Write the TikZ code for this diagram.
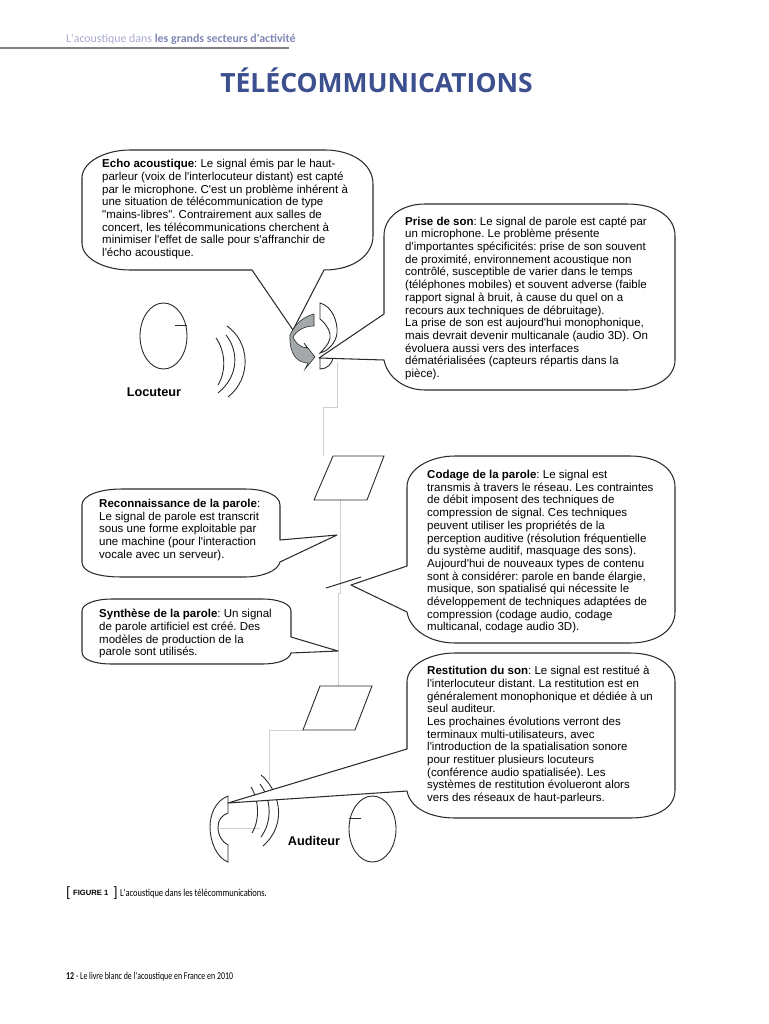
\documentclass[tikz,border=0pt]{standalone}
\usepackage{fontspec}
\newfontfamily\bubblefont{Liberation Sans}
\newfontfamily\pagefont{Carlito}
\newfontfamily\narrowfont[FakeStretch=0.76]{Carlito}
\newfontfamily\legendfont[FakeStretch=0.8]{Carlito}
\newfontfamily\titlefont{Open Sans}
\usepackage{tikz}
\usetikzlibrary{shapes.geometric}
\definecolor{titleblue}{HTML}{3C4F8E}
\definecolor{headlight}{HTML}{A6ABCF}
\definecolor{headdark}{HTML}{8187B5}
\definecolor{wiregray}{HTML}{CFCFCF}
\definecolor{arrowgray}{HTML}{A3A9AA}
\definecolor{inkgray}{HTML}{2B2B2B}
\tikzset{
  bubble/.style={draw=inkgray,line width=1.05pt,fill=white,line join=round},
  bubbletext/.style={anchor=north west,align=left,inner sep=0pt,text=black,
    font=\bubblefont\frenchspacing\fontsize{11.5}{12.7}\selectfont},
  wire/.style={draw=wiregray,line width=0.8pt},
  thinline/.style={draw=inkgray,line width=0.9pt},
  person/.style={ellipse,draw=inkgray,line width=0.9pt,inner sep=0pt},
  personname/.style={inner sep=0pt,text=black,font=\bubblefont\fontsize{12.7}{14}\bfseries\selectfont},
}
\begin{document}
\begin{tikzpicture}[x=1pt,y=-1pt]
  \useasboundingbox (0,0) rectangle (768,1024);

  \node[anchor=base west,inner sep=0pt,text=headlight,font=\pagefont\fontsize{11.9}{14}\selectfont] (rubrique) at (66,43)
    {L'acoustique dans \textcolor{headdark}{\bfseries les grands secteurs d'activité}};
  \draw[draw=black!50,line width=1.6pt] (0,48) -- (289,48);
  \node[inner sep=0pt,text=titleblue,font=\titlefont\fontsize{26.5}{30}\bfseries\selectfont] (titre) at (376.5,80) {TÉLÉCOMMUNICATIONS};

  \coordinate (micout) at (337,362);
  \coordinate (wirea) at (337,407);
  \coordinate (wireb) at (323,407);
  \coordinate (codeurin) at (323,456);
  \coordinate (codeurout) at (340,500);
  \coordinate (wirec) at (340,593);
  \coordinate (wired) at (338,593);
  \coordinate (decodin) at (338,686);
  \coordinate (decodout) at (303,730);
  \coordinate (wiree) at (269,730);
  \coordinate (hpin) at (269,780);
  \coordinate (hpa) at (220,828);
  \coordinate (hpb) at (260,828);
  \draw[wire] (micout) -- (wirea) -- (wireb) -- (codeurin);
  \draw[wire] (codeurout) -- (wirec) -- (wired) -- (decodin);
  \draw[wire] (decodout) -- (wiree) -- (hpin);
  \draw[wire] (hpa) -- (hpb);

  % micro
  \draw[thinline] (320,303) .. controls (332,306) and (338,322) .. (337,333)
    .. controls (336,343) and (328,351) .. (320,353) .. controls (328,345) and (331,340) .. (330,334)
    .. controls (329,328) and (324,322) .. (320,319) -- cycle;
  \draw[thinline] (320,357) -- (320,369) .. controls (327,369) and (332,364) .. (333,358);

  % ondes du haut-parleur
  \draw[thinline] (251,787) .. controls (259,800) and (260,820) .. (252,833);
  \draw[thinline] (260,784) .. controls (272,800) and (272,822) .. (261,837);
  \draw[thinline] (261,775) .. controls (277,788) and (290,822) .. (263,846);

  % bulles
  \draw[bubble] (252,270) -- (293,330) -- (324,270) .. controls (355,270) and (373,254) .. (373,236)
    -- (373,184) .. controls (373,164) and (352,150) .. (325,150) -- (130,150)
    .. controls (105,150) and (82,162) .. (82,178) -- (82,243) .. controls (82,259) and (105,270) .. (130,270) -- cycle;
  \draw[bubble] (384,314) -- (319,358) -- (384,360) .. controls (387,376) and (403,390) .. (425,390)
    -- (627,390) .. controls (655,390) and (675,378) .. (675,360) -- (675,236)
    .. controls (675,216) and (655,204) .. (627,204) -- (425,204)
    .. controls (403,204) and (384,216) .. (384,236) -- cycle;
  \draw[bubble] (407,566) -- (351,585) -- (407,612) .. controls (410,630) and (430,643) .. (455,643)
    -- (630,643) .. controls (657,643) and (675,630) .. (675,612) -- (675,487)
    .. controls (675,469) and (657,456) .. (630,456) -- (455,456)
    .. controls (430,456) and (407,469) .. (407,487) -- cycle;
  \draw[bubble] (407,749) -- (228,803) -- (407,791) .. controls (410,808) and (430,818) .. (455,818)
    -- (630,818) .. controls (657,818) and (675,808) .. (675,790) -- (675,682)
    .. controls (675,665) and (657,653) .. (630,653) -- (455,653)
    .. controls (430,653) and (407,665) .. (407,682) -- cycle;
  \draw[bubble] (280,540) -- (337,535) -- (280,562) .. controls (278,571) and (262,577) .. (245,577)
    -- (122,577) .. controls (98,577) and (82,572) .. (82,562) -- (82,505)
    .. controls (82,496) and (98,489) .. (122,489) -- (245,489)
    .. controls (264,489) and (280,495) .. (280,505) -- cycle;
  \draw[bubble] (291,637) -- (338,651) -- (291,653) .. controls (289,660) and (278,664) .. (262,664)
    -- (112,664) .. controls (95,664) and (82,660) .. (82,652) -- (82,611)
    .. controls (82,604) and (95,599) .. (112,599) -- (262,599)
    .. controls (279,599) and (291,604) .. (291,611) -- cycle;

  % fleches de l'echo
  \draw[draw=inkgray,line width=0.6pt,fill=arrowgray] (314,314) -- (314,326)
    .. controls (305,326) and (297,330) .. (293,337) .. controls (295,342) and (299,347) .. (307,348)
    -- (304,343) -- (315,357) -- (305,369) -- (308,363) .. controls (298,363) and (289,355) .. (290,335)
    .. controls (295,324) and (303,317) .. (314,314) -- cycle;

  % parallelogrammes et coupure
  \draw[thinline,fill=white] (333,456) -- (384,456) -- (367,500) -- (314,500) -- cycle;
  \draw[thinline,fill=white] (320,686) -- (372,686) -- (355,730) -- (303,730) -- cycle;
  \coordinate (coupurea) at (326,588);
  \coordinate (coupureb) at (361,577);
  \draw[draw=inkgray,line width=1pt] (coupurea) -- (coupureb);

  % haut-parleur
  \draw[thinline] (228,796) .. controls (215,801) and (210,815) .. (210,827)
    .. controls (210,842) and (217,858) .. (228,862) -- (228,845)
    .. controls (222,842) and (218,835) .. (218,827) .. controls (218,820) and (222,815) .. (228,813) -- cycle;

  % personnages
  \node[person,minimum width=47pt,minimum height=66pt] (locuteur) at (163.5,336) {};
  \draw[thinline] (175,325) -- (locuteur.east |- 175,325);
  \node[person,minimum width=47pt,minimum height=66pt] (auditeur) at (372.5,829) {};
  \draw[thinline] (auditeur.west |- 361,818) -- (361,818);
  \draw[thinline] (216,338) .. controls (226,352) and (226,372) .. (218,385);
  \draw[thinline] (226,335) .. controls (238,350) and (240,375) .. (218,393);
  \draw[thinline] (227,326) .. controls (250,342) and (252,378) .. (228,397);
  \node[personname] (locuteurname) at (154,392) {Locuteur};
  \node[personname] (auditeurname) at (314,841) {Auditeur};

  % textes
  \node[bubbletext] (echo) at (102,159) {\textbf{Echo acoustique}: Le signal émis par le haut-\\parleur (voix de l'interlocuteur distant) est capté\\par le microphone. C'est un problème inhérent à\\une situation de télécommunication de type\\"mains-libres". Contrairement aux salles de\\concert, les télécommunications cherchent à\\minimiser l'effet de salle pour s'affranchir de\\l'écho acoustique.};
  \node[bubbletext] (prise) at (405,216.5) {\textbf{Prise de son}: Le signal de parole est capté par\\un microphone. Le problème présente\\d'importantes spécificités: prise de son souvent\\de proximité, environnement acoustique non\\contrôlé, susceptible de varier dans le temps\\(téléphones mobiles) et souvent adverse (faible\\rapport signal à bruit, à cause du quel on a\\recours aux techniques de débruitage).\\La prise de son est aujourd'hui monophonique,\\mais devrait devenir multicanale (audio 3D). On\\évoluera aussi vers des interfaces\\dématérialisées (capteurs répartis dans la\\pièce).};
  \node[bubbletext] (codage) at (427,470) {\textbf{Codage de la parole}: Le signal est\\transmis à travers le réseau. Les contraintes\\de débit imposent des techniques de\\compression de signal. Ces techniques\\peuvent utiliser les propriétés de la\\perception auditive (résolution fréquentielle\\du système auditif, masquage des sons).\\Aujourd'hui de nouveaux types de contenu\\sont à considérer: parole en bande élargie,\\musique, son spatialisé qui nécessite le\\développement de techniques adaptées de\\compression (codage audio, codage\\multicanal, codage audio 3D).};
  \node[bubbletext] (restitution) at (427,666) {\textbf{Restitution du son}: Le signal est restitué à\\l'interlocuteur distant. La restitution est en\\généralement monophonique et dédiée à un\\seul auditeur.\\Les prochaines évolutions verront des\\terminaux multi-utilisateurs, avec\\l'introduction de la spatialisation sonore\\pour restituer plusieurs locuteurs\\(conférence audio spatialisée). Les\\systèmes de restitution évolueront alors\\vers des réseaux de haut-parleurs.};
  \node[bubbletext] (reconnaissance) at (99,499) {\textbf{Reconnaissance de la parole}:\\Le signal de parole est transcrit\\sous une forme exploitable par\\une machine (pour l'interaction\\vocale avec un serveur).};
  \node[bubbletext] (synthese) at (99,609) {\textbf{Synthèse de la parole}: Un signal\\de parole artificiel est créé. Des\\modèles de production de la\\parole sont utilisés.};

  \node[anchor=base west,inner sep=0pt,font=\pagefont\fontsize{15}{16}\selectfont] (crochet) at (66,897) {[};
  \node[anchor=base west,inner sep=0pt,font=\bubblefont\fontsize{7.6}{8}\bfseries\selectfont] (figure) at (73,895) {FIGURE 1};
  \node[anchor=base west,inner sep=0pt,font=\pagefont\fontsize{15}{16}\selectfont] (crochetb) at (113,897) {]};
  \node[anchor=base west,inner sep=0pt,font=\legendfont\fontsize{10.6}{12}\selectfont] (legende) at (120,896) {L'acoustique dans les télécommunications.};
  \node[anchor=base west,inner sep=0pt,font=\narrowfont\fontsize{10.4}{12}\selectfont] (pied) at (66,979) {\textbf{12} - Le livre blanc de l'acoustique en France en 2010};
\end{tikzpicture}
\end{document}
